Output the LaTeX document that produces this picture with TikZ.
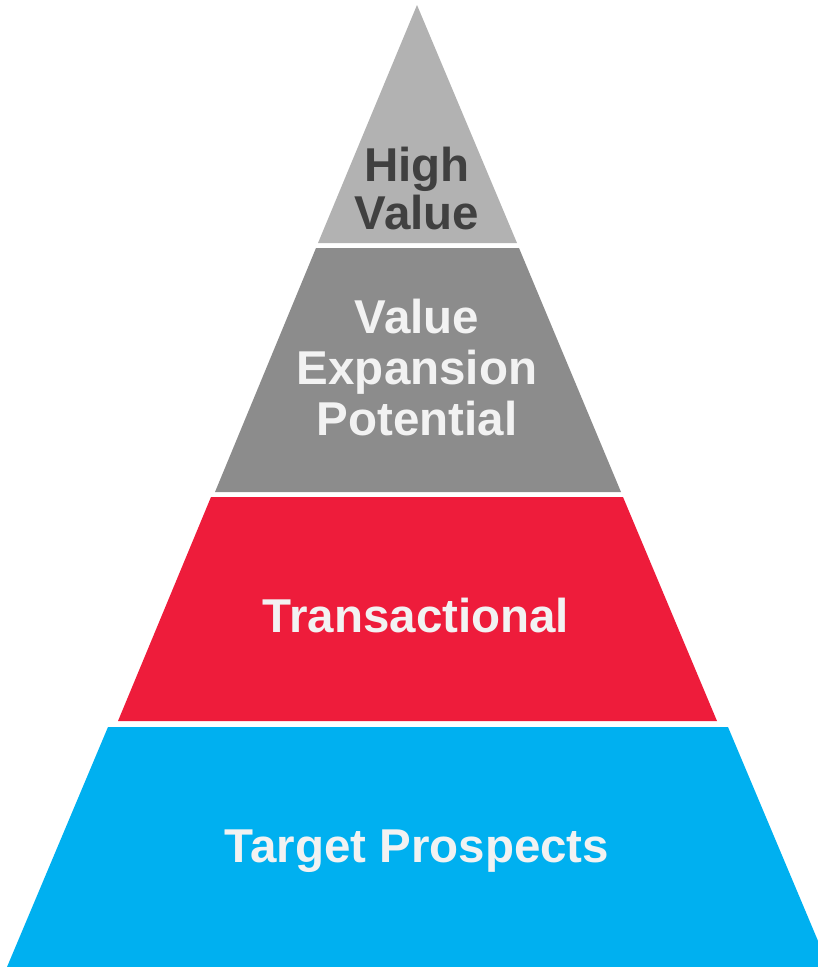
\documentclass[tikz,border=0pt]{standalone}
\usepackage{fontspec}
\setmainfont{Liberation Sans}
\definecolor{tiertop}{HTML}{B2B2B2}
\definecolor{tiermid}{HTML}{8C8C8C}
\definecolor{tierred}{HTML}{EE1C3B}
\definecolor{tierblue}{HTML}{00B0F0}
\definecolor{labeldark}{HTML}{404040}
\definecolor{labellight}{HTML}{F2F2F2}
\tikzset{
  tier/.style={draw=none},
  tierlabel/.style={font=\bfseries\fontsize{47.5}{51}\selectfont, text=labellight,
    align=center, inner sep=0pt},
}
\begin{document}
\begin{tikzpicture}[x=1pt,y=-1pt]
  \useasboundingbox (0,0) rectangle (818,967);
  \clip (0,0) rectangle (818,967);
  % tiers of the pyramid, top to bottom
  \fill[tier, tiertop]  (417,5) -- (517,243) -- (318,243) -- cycle;
  \fill[tier, tiermid]  (316,248) -- (519,248) -- (621,492) -- (215,492) -- cycle;
  \fill[tier, tierred]  (211,497) -- (623,497) -- (717,721) -- (118,721) -- cycle;
  \fill[tier, tierblue] (108,727) -- (728,727) -- (829,967) -- (7,967) -- cycle;
  % labels
  \node[tierlabel, text=labeldark, font=\bfseries\fontsize{47.5}{48}\selectfont] (high) at (417,189) {High\\Value};
  \node[tierlabel] (expansion) at (417,368) {Value\\Expansion\\Potential};
  \node[tierlabel, anchor=base] (transactional) at (416,632) {Transactional};
  \node[tierlabel, anchor=base] (prospects) at (417,862) {Target Prospects};
\end{tikzpicture}
\end{document}
